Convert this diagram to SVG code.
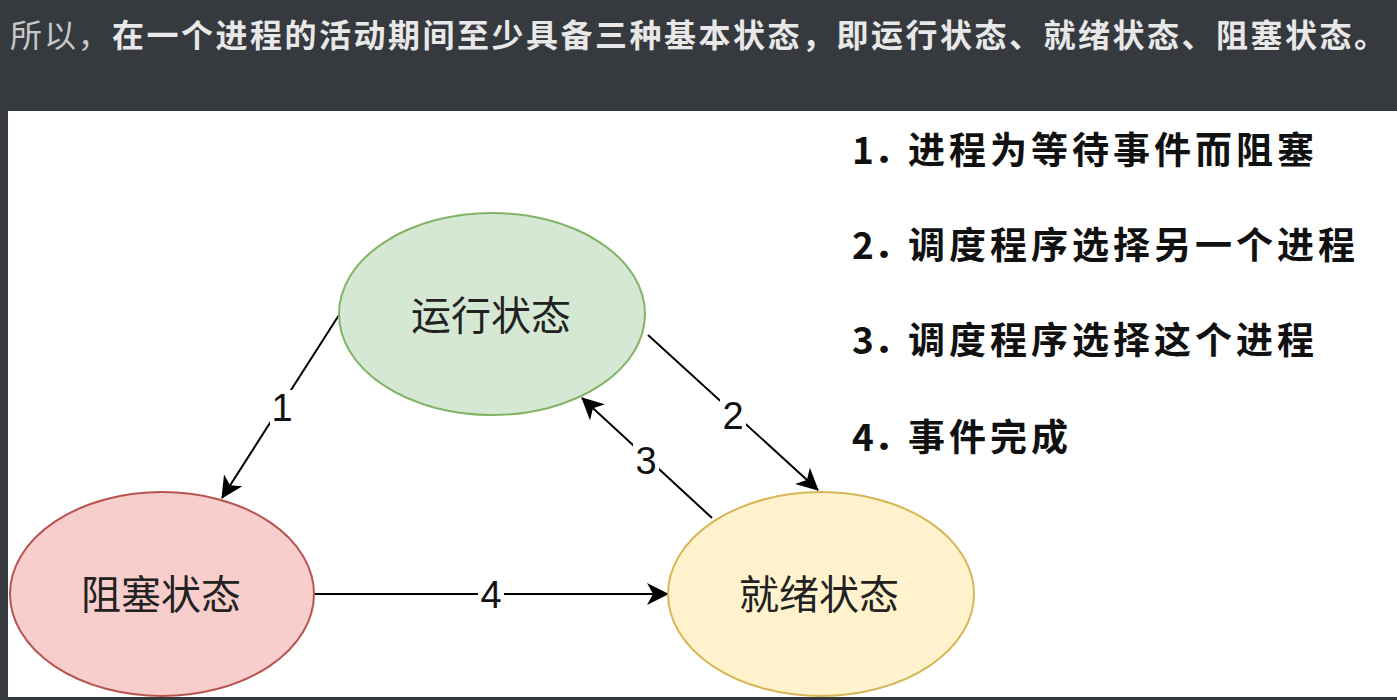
<svg xmlns="http://www.w3.org/2000/svg" width="1397" height="700" viewBox="0 0 1397 700">
<style>
.cjk{font-family:"Noto Sans CJK SC","Noto Sans",sans-serif;}
.node-text{font-family:"Noto Sans CJK SC",sans-serif;font-size:40px;fill:#222;text-anchor:middle;}
.edge{stroke:#000;stroke-width:2;fill:none;}
.lbl{font-family:"Liberation Sans",Arial,sans-serif;font-size:38px;fill:#111;text-anchor:middle;}
.lblbg{fill:#fff;}
.legend{font-family:"Noto Sans CJK SC",sans-serif;font-size:37px;font-weight:700;fill:#111;}
.legend .body{letter-spacing:4px;}
</style>
<defs>
<marker id="arr" viewBox="0 0 22 22" refX="21" refY="11" markerWidth="22" markerHeight="22" markerUnits="userSpaceOnUse" orient="auto">
<path d="M0,0 L22,11 L0,22 L6,11 Z" fill="#000"/>
</marker>
</defs>
<rect x="0" y="0" width="1397" height="700" fill="#36393e"/>
<text class="cjk" x="10" y="47" font-size="32"><tspan fill="#c8c8c8" style="letter-spacing:1.9px">所以，</tspan><tspan x="112" fill="#e8e8e8" font-weight="700" style="letter-spacing:2.5px">在一个进程的活动期间至少具备三种基本状态，即运行状态、就绪状态、阻塞状态。</tspan></text>
<rect x="8" y="111" width="1389" height="586" fill="#fff"/>

<g id="connectors">
<g id="edge1"><line class="edge" x1="339" y1="315" x2="222" y2="498" marker-end="url(#arr)"/><rect class="lblbg" x="270" y="390" width="24" height="36"/><text class="lbl" x="282" y="421">1</text></g>
<g id="edge2"><line class="edge" x1="648" y1="335" x2="818" y2="490" marker-end="url(#arr)"/><rect class="lblbg" x="720" y="397" width="26" height="36"/><text class="lbl" x="733" y="429">2</text></g>
<g id="edge3"><line class="edge" x1="712" y1="518" x2="582" y2="398" marker-end="url(#arr)"/><rect class="lblbg" x="633" y="442" width="26" height="36"/><text class="lbl" x="646" y="474">3</text></g>
<g id="edge4"><line class="edge" x1="315" y1="594" x2="668" y2="594" marker-end="url(#arr)"/><rect class="lblbg" x="478" y="576" width="26" height="36"/><text class="lbl" x="491" y="608">4</text></g>
</g>

<g id="node-running">
<ellipse cx="492" cy="314" rx="153" ry="101" fill="#d5e8d4" stroke="#82b366" stroke-width="2"/>
<text class="node-text" x="491" y="330">运行状态</text>
</g>
<g id="node-blocked">
<ellipse cx="162" cy="594" rx="152" ry="102" fill="#f8cecc" stroke="#b85450" stroke-width="2"/>
<text class="node-text" x="161" y="609">阻塞状态</text>
</g>
<g id="node-ready">
<ellipse cx="821" cy="594" rx="153" ry="102" fill="#fff2cc" stroke="#d6b656" stroke-width="2"/>
<text class="node-text" x="819" y="609">就绪状态</text>
</g>

<g id="legend">
<text class="legend" x="852" y="164">1．<tspan class="body" x="908">进程为等待事件而阻塞</tspan></text>
<text class="legend" x="852" y="259">2．<tspan class="body" x="908">调度程序选择另一个进程</tspan></text>
<text class="legend" x="852" y="354">3．<tspan class="body" x="908">调度程序选择这个进程</tspan></text>
<text class="legend" x="852" y="451">4．<tspan class="body" x="908">事件完成</tspan></text>
</g>
</svg>
